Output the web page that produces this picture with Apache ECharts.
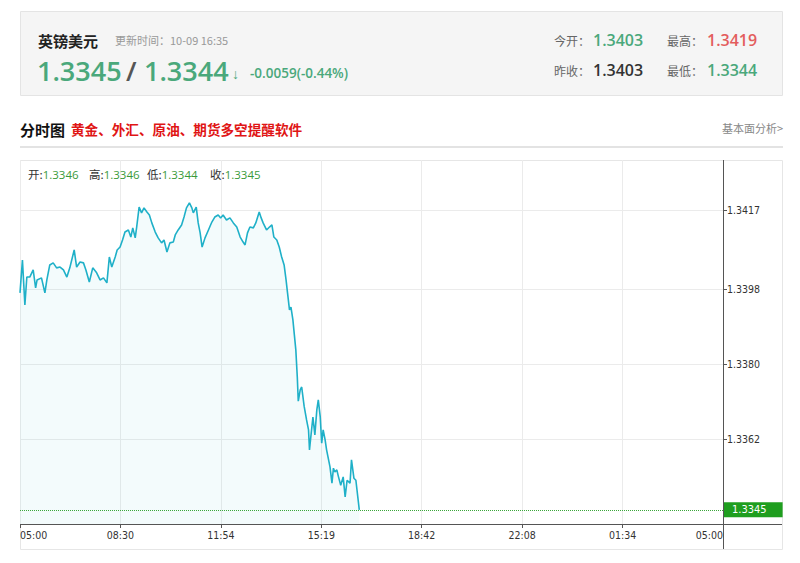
<!DOCTYPE html>
<html><head><meta charset="utf-8">
<script src="https://cdn.jsdelivr.net/npm/echarts@6/dist/echarts.min.js"></script>
<style>html,body{margin:0;padding:0;background:#fff;}#c{width:800px;height:563px;}</style>
</head><body><div id="c"></div><script>
// ---- data ----
const minutesFrom0500 = [0,5,10,14,20,27,32,35,44,51,55,61,68,75,82,89,96,102,111,116,123,130,135,142,149,157,164,171,178,183,188,195,199,205,210,215,222,227,231,236,239,244,249,254,260,265,270,277,283,290,295,301,307,314,318,324,331,336,341,347,352,355,361,365,369,373,379,386,393,399,406,411,416,423,430,437,444,451,457,461,466,471,478,483,490,494,498,505,511,516,520,526,531,536,541,545,548,552,555,559,562,565,568,570,574,577,582,587,591,593,594,600,604,608,611,615,618,621,625,628,635,639,642,645,649,652,657,662,666,670,676,679,684,688,695];
const prices = [1.33971,1.34050,1.33942,1.34009,1.34009,1.34026,1.33983,1.34002,1.34007,1.33971,1.34002,1.34038,1.34043,1.34031,1.34033,1.34026,1.34009,1.34031,1.34074,1.34033,1.34045,1.34043,1.34026,1.33997,1.34031,1.34019,1.34002,1.34007,1.33995,1.34057,1.34033,1.34057,1.34074,1.34081,1.34098,1.34117,1.34122,1.34105,1.34127,1.34103,1.34129,1.34177,1.34163,1.34175,1.34165,1.34158,1.34139,1.34117,1.34103,1.34091,1.34098,1.34069,1.34091,1.34093,1.34110,1.34122,1.34134,1.34153,1.34175,1.34187,1.34175,1.34163,1.34177,1.34139,1.34115,1.34081,1.34103,1.34122,1.34141,1.34153,1.34158,1.34151,1.34158,1.34146,1.34151,1.34139,1.34129,1.34105,1.34093,1.34086,1.34115,1.34129,1.34127,1.34139,1.34165,1.34151,1.34139,1.34122,1.34129,1.34134,1.34105,1.34098,1.34081,1.34057,1.34038,1.34002,1.33971,1.33930,1.33937,1.33906,1.33870,1.33834,1.33769,1.33711,1.33738,1.33745,1.33699,1.33666,1.33642,1.33594,1.33606,1.33673,1.33630,1.33690,1.33714,1.33673,1.33610,1.33642,1.33618,1.33594,1.33553,1.33514,1.33550,1.33541,1.33546,1.33531,1.33509,1.33529,1.33481,1.33521,1.33514,1.33570,1.33526,1.33521,1.33450];
const timeLabels = ['05:00','08:30','11:54','15:19','18:42','22:08','01:34','05:00'];
const priceTicks = [1.3362, 1.3380, 1.3398, 1.3417];
const lastPrice = 1.3345;
const ohlcNames = ['开:', '高:', '低:', '收:'];
const ohlcValues = ['1.3346', '1.3346', '1.3344', '1.3345'];
const pairName = '英镑美元';
const updateTime = '更新时间：10-09 16:35';
const bidAsk = ['1.3345', '1.3344'];
const change = '-0.0059(-0.44%)';
const statNames = ['今开：', '最高：', '昨收：', '最低：'];
const statValues = ['1.3403', '1.3419', '1.3403', '1.3344'];

// ---- layout ----
const CJK = '"Noto Sans CJK SC", "Noto Sans", sans-serif';
const NUM = '"Open Sans", "Noto Sans", sans-serif';
const AX = '"DejaVu Sans Condensed", "Liberation Sans", sans-serif';
const GREEN = '#4aa87b', RED = '#e35d5d', GRAY = '#999';
function T(x, y, text, size, color, weight, family, align) {
  return {type:'text', x:x, y:y, silent:true, style:{text:text, fontSize:size, fill:color,
    fontWeight:weight||'normal', fontFamily:family||CJK, align:align||'left', verticalAlign:'middle'}};
}
const xTickVals = timeLabels.map((_, i) => i * 1440 / 7);

const graphics = [
  {type:'rect', shape:{x:20.5, y:11.5, width:762, height:84}, style:{fill:'#f5f5f5', stroke:'#e4e4e4', lineWidth:1}, silent:true},
  T(38, 40, pairName, 15, '#222', 'bold'),
  T(115, 40, updateTime, 11, GRAY),
  T(37, 70, bidAsk[0], 27, GREEN, '600', NUM),
  T(126, 70, '/', 27, '#555', '600', NUM),
  T(144, 70, bidAsk[1], 27, GREEN, '600', NUM),
  T(232, 73, '↓', 14, GREEN, 'bold', NUM),
  T(250, 73, change, 13.5, GREEN, '600', NUM),
  T(554, 40, statNames[0], 12, '#666'),
  T(593, 40, statValues[0], 16, GREEN, '600', NUM),
  T(667, 40, statNames[1], 12, '#666'),
  T(707, 40, statValues[1], 16, RED, '600', NUM),
  T(554, 70, statNames[2], 12, '#666'),
  T(593, 70, statValues[2], 16, '#333', '600', NUM),
  T(667, 70, statNames[3], 12, '#666'),
  T(707, 70, statValues[3], 16, GREEN, '600', NUM),
  T(20, 129, '分时图', 15, '#111', 'bold'),
  T(71, 129, '黄金、外汇、原油、期货多空提醒软件', 13.6, '#e01515', 'bold'),
  T(783, 128, '基本面分析>', 11, '#888', 'normal', CJK, 'right'),
  {type:'line', shape:{x1:20, y1:147, x2:783, y2:147}, style:{stroke:'#e3e3e3', lineWidth:2}, silent:true},
  {type:'rect', shape:{x:20.5, y:160.5, width:762, height:389}, style:{fill:'none', stroke:'#e6e6e6', lineWidth:1}, silent:true, z:-1},
  {type:'line', shape:{x1:723.5, y1:160, x2:723.5, y2:549}, style:{stroke:'#555', lineWidth:1}, silent:true, z:10},
  {type:'line', shape:{x1:20, y1:524.5, x2:782, y2:524.5}, style:{stroke:'#555', lineWidth:1}, silent:true, z:10}
];
const ohlcX = [28, 89, 147, 210];
ohlcNames.forEach((n, i) => {
  graphics.push({type:'text', x:ohlcX[i], y:174, silent:true, z:10, style:{
    text:'{a|' + n + '}{b|' + ohlcValues[i] + '}', verticalAlign:'middle',
    rich:{a:{fontSize:11.5, fill:'#333', fontFamily:CJK}, b:{fontSize:11.5, fill:'#3a9a3a', fontFamily:NUM}}}});
});

const chart = echarts.init(document.getElementById('c'), null, {renderer:'svg'});
chart.setOption({
  animation:false,
  backgroundColor:'#fff',
  grid:{left:20, right:77, top:160, bottom:39, containLabel:false},
  xAxis:{type:'value', min:0, max:1440, position:'bottom',
    axisLine:{show:false, onZero:false},
    axisTick:{show:true, inside:false, length:4, lineStyle:{color:'#555'}, customValues:xTickVals},
    axisLabel:{customValues:xTickVals, color:'#333', fontSize:10.5, fontFamily:AX, margin:5,
      alignMinLabel:'left', alignMaxLabel:'right',
      formatter:function(v){ let best=0; xTickVals.forEach((t,i)=>{ if (Math.abs(t-v)<Math.abs(xTickVals[best]-v)) best=i; }); return timeLabels[best]; }},
    splitLine:{show:true, lineStyle:{color:'#ebebeb'}}
  },
  yAxis:{type:'value', position:'right', min:1.33416, max:1.3429,
    axisLine:{show:false, onZero:false},
    axisTick:{show:true, inside:false, length:4, lineStyle:{color:'#555'}, customValues:priceTicks},
    axisLabel:{customValues:priceTicks, color:'#333', fontSize:10.5, fontFamily:AX, margin:4,
      formatter:function(v){ return v.toFixed(4); }},
    splitLine:{show:true, lineStyle:{color:'#ebebeb'}}
  },
  series:[{
    type:'line', showSymbol:false, symbol:'none',
    data: minutesFrom0500.map((m, i) => [m, prices[i]]),
    lineStyle:{color:'#1fb0c8', width:1.6},
    areaStyle:{color:'rgba(32,178,201,0.08)'},
    markLine:{silent:true, symbol:['none','none'], animation:false,
      lineStyle:{type:'dotted', color:'#3aa63a', width:1},
      label:{show:true, position:'end', distance:1, formatter: lastPrice.toFixed(4),
        backgroundColor:'#1f9e1f', color:'#fff', fontSize:11, fontFamily:AX, padding:[2,16,2,8]},
      data:[[{coord:[0, lastPrice]}, {coord:[1440, lastPrice]}]]}
  }],
  graphic: graphics
});
</script></body></html>
